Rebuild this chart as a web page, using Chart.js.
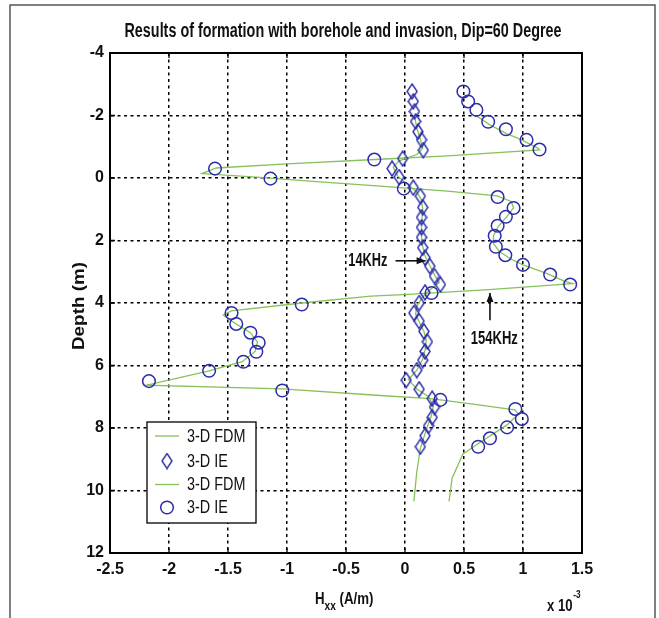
<!DOCTYPE html>
<html>
<head>
<meta charset="utf-8">
<script src="https://cdn.jsdelivr.net/npm/chart.js@4.4.0/dist/chart.umd.min.js"></script>
<style>
  html, body { margin: 0; padding: 0; background: #fff; }
  #wrap { width: 659px; height: 618px; position: relative; }
</style>
</head>
<body>
<div id="wrap"><canvas id="myChart"></canvas></div>
<script>
// values: depth in m, Hxx in 1e-3 A/m
const depth14IE = [-2.77, -2.45, -2.13, -1.81, -1.48, -1.22, -0.89, -0.62, -0.30, -0.03, 0.31, 0.58, 0.94, 1.26, 1.58, 1.9, 2.23, 2.55, 2.82, 3.14, 3.41, 3.66, 4.0, 4.32, 4.58, 4.91, 5.24, 5.55, 5.83, 6.15, 6.47, 6.76, 7.06, 7.33, 7.66, 7.93, 8.25, 8.6];
const hxx14IE = [0.06, 0.07, 0.08, 0.09, 0.11, 0.14, 0.155, -0.02, -0.11, -0.05, 0.07, 0.13, 0.15, 0.14, 0.14, 0.14, 0.15, 0.17, 0.21, 0.25, 0.30, 0.17, 0.12, 0.075, 0.12, 0.16, 0.19, 0.17, 0.15, 0.10, 0.01, 0.12, 0.23, 0.25, 0.23, 0.20, 0.17, 0.13];

const depth154IE = [-2.77, -2.45, -2.18, -1.8, -1.56, -1.22, -0.91, -0.59, -0.3, 0.02, 0.34, 0.61, 0.96, 1.24, 1.53, 1.85, 2.2, 2.47, 2.78, 3.09, 3.41, 3.68, 4.05, 4.32, 4.67, 4.95, 5.27, 5.56, 5.88, 6.17, 6.5, 6.8, 7.1, 7.39, 7.71, 7.98, 8.33, 8.6];
const hxx154IE = [0.495, 0.535, 0.605, 0.705, 0.855, 1.03, 1.14, -0.26, -1.61, -1.14, -0.01, 0.785, 0.92, 0.855, 0.785, 0.76, 0.77, 0.85, 1.0, 1.23, 1.40, 0.225, -0.875, -1.47, -1.43, -1.31, -1.24, -1.26, -1.37, -1.66, -2.17, -1.04, 0.30, 0.935, 0.99, 0.865, 0.72, 0.62];

const depth14FDM = [-2.0, -1.6, -1.25, -0.95, -0.75, -0.55, -0.35, -0.05, 0.2, 0.45, 0.7, 1.0, 1.5, 1.9, 2.2, 2.5, 2.8, 3.1, 3.35, 3.55, 3.8, 4.1, 4.35, 4.6, 4.9, 5.2, 5.5, 5.8, 6.15, 6.45, 6.75, 7.0, 7.3, 7.65, 7.95, 8.3, 8.65, 9.4, 10.35];
const hxx14FDM = [0.08, 0.10, 0.13, 0.15, 0.10, -0.05, -0.10, -0.06, 0.02, 0.10, 0.14, 0.15, 0.14, 0.14, 0.15, 0.17, 0.21, 0.25, 0.29, 0.22, 0.15, 0.10, 0.09, 0.12, 0.16, 0.18, 0.17, 0.15, 0.10, 0.03, 0.10, 0.20, 0.24, 0.22, 0.19, 0.16, 0.13, 0.10, 0.075];

const depth154FDM = [-2.0, -1.7, -1.42, -1.27, -1.1, -0.95, -0.9, -0.71, -0.6, -0.45, -0.32, -0.14, -0.03, 0.11, 0.26, 0.42, 0.57, 0.75, 0.95, 1.25, 1.55, 1.85, 2.1, 2.35, 2.6, 2.78, 3.05, 3.3, 3.38, 3.57, 3.73, 3.78, 4.0, 4.25, 4.38, 4.5, 4.67, 4.95, 5.25, 5.55, 5.88, 6.17, 6.63, 6.75, 6.96, 7.06, 7.23, 7.42, 7.55, 7.9, 8.45, 8.84, 9.6, 10.35];
const hxx154FDM = [0.6, 0.72, 0.86, 0.96, 1.05, 1.13, 1.14, 0.36, -0.21, -1.0, -1.6, -1.72, -1.26, -0.78, -0.21, 0.36, 0.78, 0.9, 0.92, 0.86, 0.79, 0.75, 0.75, 0.8, 0.9, 1.0, 1.2, 1.35, 1.42, 0.71, -0.01, -0.29, -0.875, -1.47, -1.54, -1.5, -1.43, -1.31, -1.25, -1.27, -1.38, -1.66, -2.19, -1.04, -0.21, 0.22, 0.56, 0.93, 0.96, 0.865, 0.64, 0.49, 0.40, 0.373];

const legendLabels = ['3-D FDM', '3-D IE', '3-D FDM', '3-D IE'];
const xTicksMin = -2.5, xTicksMax = 1.5, xStep = 0.5;
const yTicksMin = -4, yTicksMax = 12, yStep = 2;

const green = '#86c15a';
const blue = '#2c2caa';
const fam = "'Liberation Sans', Arial, sans-serif";

// tall diamond marker, like the one in the figure
const diamond = document.createElement('canvas');
diamond.width = 12;
diamond.height = 17;
(function () {
  const c = diamond.getContext('2d');
  c.strokeStyle = blue;
  c.lineWidth = 1.4;
  c.beginPath();
  c.moveTo(6, 1);
  c.lineTo(11, 8.5);
  c.lineTo(6, 16);
  c.lineTo(1, 8.5);
  c.closePath();
  c.stroke();
})();

const pts = (xs, ys) => xs.map((x, i) => ({ x: x, y: ys[i] }));

// the figure uses a condensed face, so squeeze text to the width it takes there
function fitText(ctx, text, x, y, font, w, align) {
  ctx.save();
  ctx.font = font;
  const k = w / ctx.measureText(text).width;
  ctx.translate(x, y);
  ctx.scale(k, 1);
  ctx.textAlign = align;
  ctx.fillText(text, 0, 0);
  ctx.restore();
}

const decor = {
  id: 'decor',
  afterDraw(chart) {
    const ctx = chart.ctx;
    const a = chart.chartArea;
    const xs = chart.scales.x, ys = chart.scales.y;
    ctx.save();

    // outer frame of the figure
    ctx.strokeStyle = '#555';
    ctx.lineWidth = 1.5;
    ctx.beginPath();
    ctx.moveTo(10, 620); ctx.lineTo(10, 5); ctx.lineTo(655, 5); ctx.lineTo(655, 620);
    ctx.stroke();

    // inward tick marks on all sides
    ctx.strokeStyle = '#000';
    ctx.lineWidth = 1.3;
    ctx.beginPath();
    for (let v = xTicksMin; v <= xTicksMax + 1e-9; v += xStep) {
      const px = xs.getPixelForValue(v);
      ctx.moveTo(px, a.top); ctx.lineTo(px, a.top + 5);
      ctx.moveTo(px, a.bottom); ctx.lineTo(px, a.bottom - 5);
    }
    for (let v = yTicksMin; v <= yTicksMax; v += yStep) {
      const py = ys.getPixelForValue(v);
      ctx.moveTo(a.left, py); ctx.lineTo(a.left + 5, py);
      ctx.moveTo(a.right, py); ctx.lineTo(a.right - 5, py);
    }
    ctx.stroke();

    // axes box
    ctx.lineWidth = 2;
    ctx.strokeRect(a.left, a.top, a.right - a.left, a.bottom - a.top);

    // title
    ctx.fillStyle = '#111';
    ctx.textBaseline = 'alphabetic';
    fitText(ctx, 'Results of formation with borehole and invasion, Dip=60 Degree', 343, 37, 'bold 20px ' + fam, 437, 'center');

    // y label
    ctx.save();
    ctx.translate(84, 306);
    ctx.rotate(-Math.PI / 2);
    fitText(ctx, 'Depth (m)', 0, 0, 'bold 17px ' + fam, 88, 'center');
    ctx.restore();

    // x label with subscript
    ctx.save();
    ctx.translate(315, 604);
    ctx.scale(0.78, 1);
    ctx.textAlign = 'left';
    ctx.font = 'bold 17px ' + fam;
    let x0 = 0;
    ctx.fillText('H', x0, 0);
    x0 += ctx.measureText('H').width;
    ctx.font = 'bold 13px ' + fam;
    ctx.fillText('xx', x0, 6);
    x0 += ctx.measureText('xx').width;
    ctx.font = 'bold 17px ' + fam;
    ctx.fillText(' (A/m)', x0, 0);
    ctx.restore();

    // exponent note
    ctx.save();
    ctx.translate(547, 611);
    ctx.scale(0.82, 1);
    ctx.textAlign = 'left';
    ctx.font = 'bold 16px ' + fam;
    ctx.fillText('x 10', 0, 0);
    x0 = ctx.measureText('x 10').width;
    ctx.font = 'bold 10px ' + fam;
    ctx.fillText('-3', x0 + 1, -13);
    ctx.restore();

    // frequency notes with arrows
    const arrow = (x1, y1, x2, y2) => {
      const p1x = xs.getPixelForValue(x1), p1y = ys.getPixelForValue(y1);
      const p2x = xs.getPixelForValue(x2), p2y = ys.getPixelForValue(y2);
      const ang = Math.atan2(p2y - p1y, p2x - p1x);
      ctx.lineWidth = 1.5;
      ctx.beginPath();
      ctx.moveTo(p1x, p1y); ctx.lineTo(p2x, p2y);
      ctx.stroke();
      ctx.beginPath();
      ctx.moveTo(p2x, p2y);
      ctx.lineTo(p2x - 9 * Math.cos(ang) + 3.5 * Math.sin(ang), p2y - 9 * Math.sin(ang) - 3.5 * Math.cos(ang));
      ctx.lineTo(p2x - 9 * Math.cos(ang) - 3.5 * Math.sin(ang), p2y - 9 * Math.sin(ang) + 3.5 * Math.cos(ang));
      ctx.closePath();
      ctx.fill();
    };
    ctx.textBaseline = 'middle';
    fitText(ctx, '14KHz', xs.getPixelForValue(-0.15), ys.getPixelForValue(2.65), 'bold 19px ' + fam, 39, 'right');
    arrow(-0.08, 2.65, 0.175, 2.65);
    fitText(ctx, '154KHz', xs.getPixelForValue(0.757), ys.getPixelForValue(5.16), 'bold 19px ' + fam, 47, 'center');
    arrow(0.72, 4.55, 0.72, 3.68);

    // legend box
    const lx = 147, ly = 422, lw = 109, lh = 101;
    ctx.fillStyle = '#fff';
    ctx.fillRect(lx, ly, lw, lh);
    ctx.strokeStyle = '#000';
    ctx.lineWidth = 1.3;
    ctx.strokeRect(lx, ly, lw, lh);
    const rows = [436, 461, 484.5, 507.5];
    chart.data.datasets.forEach((ds, i) => {
      const ry = rows[i];
      if (ds.showLine) {
        ctx.strokeStyle = ds.borderColor;
        ctx.lineWidth = ds.borderWidth;
        ctx.beginPath();
        ctx.moveTo(155, ry); ctx.lineTo(179, ry);
        ctx.stroke();
      } else if (ds.pointStyle === 'circle') {
        ctx.strokeStyle = ds.borderColor;
        ctx.lineWidth = ds.borderWidth;
        ctx.beginPath();
        ctx.arc(167, ry, ds.pointRadius, 0, Math.PI * 2);
        ctx.stroke();
      } else {
        ctx.drawImage(diamond, 167 - diamond.width / 2, ry - diamond.height / 2);
      }
      ctx.fillStyle = '#111';
      ctx.save();
      ctx.translate(187, ry + 1);
      ctx.scale(0.8, 1);
      ctx.font = '18px ' + fam;
      ctx.textAlign = 'left';
      ctx.textBaseline = 'middle';
      ctx.fillText(legendLabels[i], 0, 0);
      ctx.restore();
    });

    ctx.restore();
  }
};

const tickFmt = v => String(Math.round(v * 10) / 10);

const ctx = document.getElementById('myChart').getContext('2d');
const myChart = new Chart(ctx, {
  type: 'scatter',
  data: {
    datasets: [
      {
        label: legendLabels[0],
        data: pts(hxx14FDM, depth14FDM),
        showLine: true,
        borderColor: green,
        borderWidth: 1.3,
        pointRadius: 0,
        tension: 0,
        order: 2
      },
      {
        label: legendLabels[1],
        data: pts(hxx14IE, depth14IE),
        showLine: false,
        pointStyle: diamond,
        pointRadius: 6,
        borderColor: blue,
        order: 1
      },
      {
        label: legendLabels[2],
        data: pts(hxx154FDM, depth154FDM),
        showLine: true,
        borderColor: green,
        borderWidth: 1.3,
        pointRadius: 0,
        tension: 0,
        order: 2
      },
      {
        label: legendLabels[3],
        data: pts(hxx154IE, depth154IE),
        showLine: false,
        pointStyle: 'circle',
        pointRadius: 6.3,
        borderWidth: 1.5,
        borderColor: blue,
        backgroundColor: 'rgba(0,0,0,0)',
        order: 1
      }
    ]
  },
  options: {
    responsive: true,
    maintainAspectRatio: false,
    animation: false,
    layout: { padding: { top: 53, right: 77, left: 0, bottom: 0 } },
    plugins: {
      legend: { display: false },
      tooltip: { enabled: false }
    },
    scales: {
      x: {
        type: 'linear',
        min: xTicksMin,
        max: xTicksMax,
        afterFit: s => { s.height = 65; },
        ticks: {
          stepSize: xStep,
          color: '#111',
          padding: 7,
          callback: tickFmt,
          font: { family: fam, size: 16, weight: 'bold' }
        },
        grid: { color: '#000', lineWidth: 1.5, drawTicks: false },
        border: { display: true, color: '#000', width: 2, dash: [3, 3.5] }
      },
      y: {
        type: 'linear',
        reverse: true,
        min: yTicksMin,
        max: yTicksMax,
        afterFit: s => { s.width = 110; },
        ticks: {
          stepSize: yStep,
          color: '#111',
          padding: 6,
          callback: tickFmt,
          font: { family: fam, size: 16, weight: 'bold' }
        },
        grid: { color: '#000', lineWidth: 1.5, drawTicks: false },
        border: { display: true, color: '#000', width: 2, dash: [3, 3.5] }
      }
    }
  },
  plugins: [decor]
});
</script>
</body>
</html>
